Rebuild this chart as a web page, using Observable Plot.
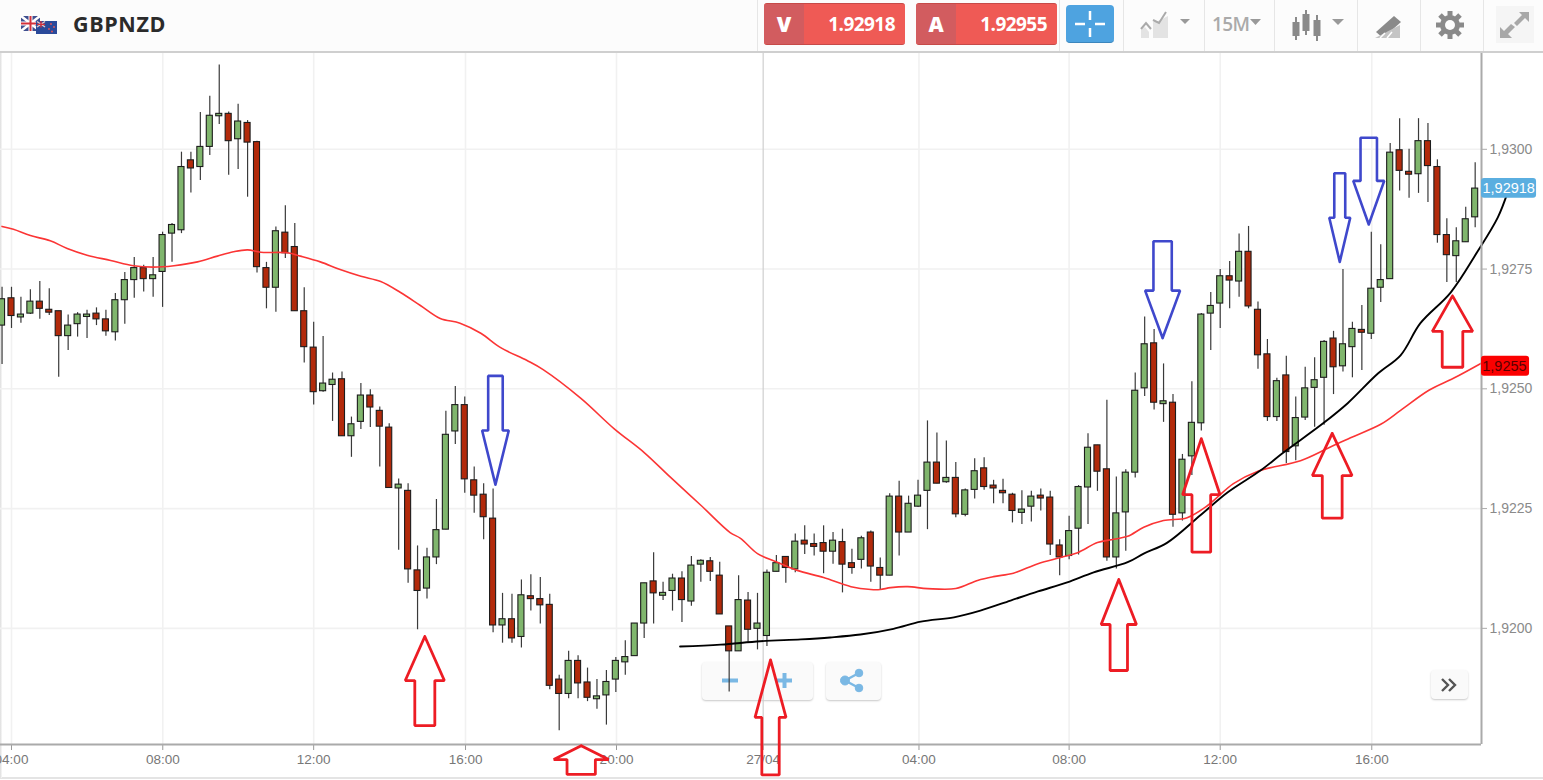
<!DOCTYPE html>
<html><head><meta charset="utf-8">
<script src="https://cdn.jsdelivr.net/npm/d3@7"></script>
<script src="https://cdn.jsdelivr.net/npm/@observablehq/plot@0.6"></script>
<style>
html,body{margin:0;padding:0;background:#fff;overflow:hidden}
#page{position:relative;width:1543px;height:780px;overflow:hidden;font-family:"Open Sans",sans-serif}
#header{position:absolute;left:0;top:0;width:1543px;background:#fcfcfc;border-bottom:2px solid #cfcfcf;box-sizing:content-box;height:51px}
#header>*{position:absolute}
.sep{top:0;width:1px;height:51px;background:#e6e6e6}
.title{left:73px;top:9px;font-size:21.5px;font-weight:700;color:#2b2b2b;letter-spacing:.6px;line-height:30px}
.quote{top:3px;height:42px;width:141px;border-radius:3px;background:#ef5a55;border-bottom:1px solid #c64a48;border-top:1px solid #c64a48;box-sizing:border-box;color:#fff;font-weight:700}
.quote b{position:absolute;left:0;top:0;width:40px;height:100%;background:#d25c5f;text-align:center;font-size:21px;line-height:40px;border-radius:3px 0 0 3px}
.quote span{position:absolute;right:10px;top:0;line-height:40px;font-size:19px;letter-spacing:-.55px}
.btn{position:absolute;background:#fafafa;border-radius:4px;box-shadow:0 1px 2px rgba(0,0,0,.22)}
#under{position:absolute;left:0;top:0;width:1543px;height:780px;z-index:0}
#chart{position:absolute;left:0;top:53px;z-index:1}
#chart svg{background:transparent!important;display:block}
#foot{position:absolute;left:0;top:777px;width:1543px;height:2px;background:#e4e4e4}
#edge{position:absolute;left:0;top:0;width:2px;height:778px;background:linear-gradient(90deg,#ddd,#f8f8f8)}
</style></head>
<body>
<div id="page">
<div id="under">
  <div class="btn" style="left:702px;top:662px;width:111px;height:38px"></div>
  <div class="btn" style="left:826px;top:662px;width:55px;height:38px"></div>
  <div class="btn" style="left:1431px;top:670px;width:37px;height:29px"></div>
  <svg width="1543" height="780" style="position:absolute;left:0;top:0">
    <g stroke="#7ab8e4" stroke-width="4"><path d="M722 680.5H738M777 680.5H792M784.5 673V688"/></g>
    <g fill="#7ab8e4" stroke="#7ab8e4"><circle cx="845" cy="680.5" r="4.5"/><circle cx="859" cy="673" r="3.8"/><circle cx="859" cy="688" r="3.8"/><path d="M845 680.5L859 673M845 680.5L859 688" stroke-width="2.5"/></g>
    <path d="M1442 679L1448 685L1442 691M1449 679L1455 685L1449 691" fill="none" stroke="#555" stroke-width="2.4"/>
  </svg>
  <div id="foot"></div>
  <div id="edge"></div>
</div>
<div id="chart"></div>
<div id="header" style="z-index:2">
  <svg width="60" height="40" style="left:18px;top:12px" viewBox="0 0 60 40">
    <rect x="3" y="4" width="19" height="15" fill="#3f4f8f"/><path d="M3 4L22 19M22 4L3 19" stroke="#fff" stroke-width="2.5"/><path d="M12.5 4V19M3 11.5H22" stroke="#fff" stroke-width="4"/><path d="M12.5 4V19M3 11.5H22" stroke="#d3303a" stroke-width="2"/>
    <rect x="18" y="9" width="21" height="13" fill="#2a4a9a"/><path d="M19 9.5L27 15M27 9.5L19 15" stroke="#e8c6c6" stroke-width="1.5"/><path d="M23 9V15.500M19 12.300H27" stroke="#d3303a" stroke-width="1.300"/><g fill="#e55"><circle cx="33" cy="12" r=".9"/><circle cx="36" cy="15" r=".9"/><circle cx="31" cy="17" r=".9"/><circle cx="34" cy="19.500" r=".9"/></g>
  </svg>
  <div class="title">GBPNZD</div>
  <div class="sep" style="left:757px"></div>
  <div class="quote" style="left:764px"><b>V</b><span>1.92918</span></div>
  <div class="quote" style="left:916px"><b>A</b><span>1.92955</span></div>
  <div class="sep" style="left:1059px"></div>
  <div style="left:1066px;top:5px;width:48px;height:38px;background:#4ea3e0;border-radius:4px;border-bottom:1px solid #3b86bd;box-sizing:border-box"></div>
  <svg width="48" height="38" style="left:1066px;top:5px"><path d="M24 6V15M24 23V32M9 19H19M29 19H39" stroke="#fff" stroke-width="2.500"/></svg>
  <div class="sep" style="left:1123px"></div>
  <svg width="60" height="40" style="left:1136px;top:8px"><path d="M5 30V22L9 19L13 24V30ZM17 30V14L22 13L32 8V30Z" fill="#e3e3e3"/><path d="M5 21L10 15L15 21M17 12L23 15L30 4" fill="none" stroke="#aaa" stroke-width="2"/><path d="M44 11H54L49 16Z" fill="#999"/></svg>
  <div class="sep" style="left:1204px"></div>
  <div style="left:1212px;top:11px;font-size:19px;color:#aaa;font-weight:600;letter-spacing:-.6px;line-height:26px">15M</div>
  <svg width="14" height="8" style="left:1249px;top:19px"><path d="M1 0H12L6.500 6Z" fill="#999"/></svg>
  <div class="sep" style="left:1274px"></div>
  <svg width="60" height="40" style="left:1290px;top:8px"><g fill="#8a8a8a" stroke="#8a8a8a" stroke-width="2"><path d="M6 9V32M16 2V27M27 7V33"/><rect x="3.500" y="15" width="5" height="12"/><rect x="13.500" y="7" width="5" height="15"/><rect x="24.500" y="13" width="5" height="14"/></g><path d="M42 11H54L48 17Z" fill="#999"/></svg>
  <div class="sep" style="left:1357px"></div>
  <svg width="34" height="30" style="left:1372px;top:12px"><path d="M4 20L22 4L29 10L11 26Z" fill="#8a8a8a"/><path d="M3 26L28 26L28 13Z" fill="#c4c4c4"/><path d="M8 26L13 21M15 26L20 20" stroke="#fff" stroke-width="1.500"/></svg>
  <div class="sep" style="left:1420px"></div>
  <svg width="34" height="34" style="left:1433px;top:8px" viewBox="0 0 34 34"><g fill="#8a8a8a"><circle cx="17" cy="17" r="10"/><g stroke="#8a8a8a" stroke-width="5"><path d="M17 3V31M3 17H31M7 7L27 27M27 7L7 27"/></g></g><circle cx="17" cy="17" r="5" fill="#fcfcfc"/></svg>
  <div class="sep" style="left:1483px"></div>
  <div style="left:1496px;top:6px;width:38px;height:37px;background:#f5f5f5"></div>
  <svg width="38" height="37" style="left:1496px;top:6px"><path d="M23 6H33V16L29 12L21 20L18 17L26 9ZM4 32V21L8 25L15 18L19 21L12 28L16 32Z" fill="#a8a8a8"/></svg>
</div>
</div>
<script>
// Candle values in price points (1 point = 0.00001), 15-minute bars numbered from the left edge
const high = [
192712,192712,192691,192707,192724,192709,192662,192654,192659,192664,
192669,192664,192699,192743,192774,192758,192774,192827,192845,192994,
192994,193077,193111,193176,193078,193094,193060,193017,192764,192838,
192882,192845,192711,192639,192609,192533,192535,192441,192511,192498,
192462,192427,192312,192302,192172,192167,192269,192453,192505,192483,
192337,192302,192291,192073,192071,192101,192112,192106,192071,191902,
191952,191943,191917,191893,191912,191939,191974,192010,192094,192158,
192096,192113,192118,192150,192143,192148,192138,192004,192110,192075,
192073,192122,192152,192150,192197,192214,192197,192214,192200,192207,
192165,192192,192203,192147,192281,192307,192276,192309,192433,192408,
192391,192346,192291,192354,192356,192309,192311,192282,192287,192286,
192291,192286,192185,192234,192298,192406,192382,192476,192316,192331,
192533,192650,192624,192552,192488,192363,192515,192657,192701,192749,
192766,192823,192839,192681,192603,192522,192568,192483,192545,192565,
192601,192620,192749,192639,192674,192827,192801,193012,193064,193000,
193064,193054,192978,192855,192836,192879,192972];
const bodyTop = [
192687,192689,192655,192682,192682,192665,192662,192632,192655,192655,
192657,192645,192685,192727,192752,192752,192737,192821,192842,192963,
192977,193005,193070,193074,193074,193058,193055,193015,192752,192829,
192826,192796,192662,192586,192511,192519,192520,192426,192486,192486,
192454,192419,192300,192287,192121,192148,192205,192404,192466,192466,
192309,192279,192229,192019,192019,192069,192067,192061,192049,191893,
191932,191932,191887,191858,191888,191932,191940,192010,192094,192098,
192074,192104,192104,192131,192141,192140,192110,192004,192059,192058,
192010,192116,192136,192149,192181,192183,192176,192178,192183,192180,
192136,192188,192200,192126,192275,192275,192260,192277,192346,192346,
192314,192314,192288,192328,192334,192298,192287,192279,192248,192275,
192277,192273,192173,192203,192295,192377,192382,192332,192240,192325,
192496,192593,192595,192474,192471,192352,192429,192655,192673,192735,
192735,192786,192786,192665,192572,192516,192528,192439,192501,192518,
192598,192605,192593,192625,192623,192709,192727,192993,192998,192953,
193017,193017,192963,192821,192808,192854,192918];
const bodyBottom = [
192632,192652,192649,192657,192667,192659,192610,192610,192635,192650,
192645,192620,192618,192685,192727,192729,192729,192744,192824,192831,
192960,192963,193005,193069,193017,193021,193014,192754,192711,192711,
192783,192662,192587,192493,192495,192508,192401,192401,192431,192461,
192421,192293,192292,192123,192078,192083,192148,192206,192411,192311,
192277,192232,192006,192006,191979,191982,192061,192048,191880,191863,
191863,191885,191855,191852,191860,191893,191929,191942,192010,192073,
192068,192078,192059,192056,192133,192118,192029,191952,191952,191997,
191999,191984,192118,192126,192123,192175,192170,192160,192160,192133,
192126,192143,192129,192110,192110,192200,192200,192254,192287,192302,
192305,192238,192237,192289,192295,192292,192282,192245,192241,192254,
192271,192175,192148,192151,192208,192294,192327,192148,192148,192242,
192325,192501,192471,192468,192237,192240,192359,192428,192657,192678,
192726,192724,192672,192570,192441,192441,192368,192380,192440,192502,
192523,192545,192547,192587,192617,192615,192711,192729,192955,192947,
192948,192965,192821,192779,192777,192806,192858];
const low = [
192551,192626,192637,192655,192645,192653,192524,192580,192608,192605,
192632,192610,192600,192635,192689,192702,192691,192670,192764,192824,
192909,192935,192987,193052,192946,192958,192900,192742,192667,192660,
192772,192662,192554,192466,192493,192432,192401,192357,192415,192419,
192337,192293,192163,192094,191997,192061,192133,192206,192384,192282,
192240,192185,191991,191969,191969,191959,192036,192009,191872,191786,
191853,191853,191847,191831,191798,191866,191902,191942,191979,192009,
192058,192036,192012,192046,192096,192098,192029,191867,191952,191971,
191955,191962,192118,192094,192116,192154,192151,192114,192134,192074,
192113,192124,192096,192079,192110,192151,192200,192252,192206,192302,
192303,192231,192233,192270,192288,192260,192260,192220,192217,192222,
192245,192152,192110,192143,192153,192217,192286,192140,192124,192161,
192314,192484,192456,192430,192211,192224,192319,192412,192580,192626,
192667,192691,192667,192541,192432,192432,192344,192350,192434,192420,
192424,192488,192535,192523,192538,192603,192680,192729,192913,192898,
192908,192889,192804,192722,192722,192806,192836];
// bars that closed lower than they opened
const downBars = [1,4,5,6,10,11,15,20,24,26,27,28,30,31,32,33,36,39,40,41,43,44,49,50,51,52,54,56,57,58,59,61,62,69,72,75,76,77,79,83,85,86,87,89,90,92,93,95,99,101,104,105,106,107,110,111,112,116,117,122,124,130,132,133,134,136,141,144,148,149,151,152,153];

// Moving averages
const slowBar = [0,1.2,3,5.1,6.9,9,11.5,13.9,16,18.2,20.7,22.8,24.5,26,27.4,30.2,31.6,33.7,35.8,38,40.1,42.2,44.3,46.4,48.5,50.7,52.8,55.6,57.3,61.3,64.8,68,70.8,74,77.1,78.2,80,82.1,84.2,87,89.9,92,93,94.1,95.9,98,101,103.3,105,107.1,109.7,112.1,113.9,116,117.7,119.2,120.9,123,125.5,127.7,130.4,133,137.5,140.4,142.8,146,148.1,151.1,153.7,156.6];
const slowMA = [192839,192833,192820,192809,192793,192779,192768,192757,192754,192757,192765,192777,192786,192790,192785,192784,192777,192765,192749,192735,192724,192701,192674,192647,192637,192616,192586,192559,192540,192480,192417,192367,192315,192257,192200,192188,192156,192138,192121,192106,192087,192081,192081,192085,192087,192083,192083,192100,192108,192115,192135,192148,192158,192179,192186,192192,192211,192225,192231,192257,192302,192328,192350,192376,192398,192426,192455,192497,192522,192553];
const fastBar = [71.8,76.1,80.3,84.6,87.7,90.9,94.4,97.3,100.8,103.6,106.8,109.7,112.8,115.6,119.2,120.9,123.4,126.9,129.8,133.3,135.7,139.9,142.5,145.7,148.1,150.2,153.4,156.2,158.4,159.4];
const fastMA = [191962,191966,191973,191977,191981,191987,191999,192014,192023,192037,192058,192077,192096,192117,192138,192156,192179,192236,192284,192330,192367,192428,192470,192532,192570,192637,192701,192785,192858,192908];

// Axis ticks
const priceTicks = [1.92, 1.9225, 1.925, 1.9275, 1.93];
const timeTickBars = [1, 17.02, 33, 49.08, 65.07, 80.6, 97.1, 113, 129, 145.05];
const timeTickLabels = ["04:00","08:00","12:00","16:00","20:00","27/04","04:00","08:00","12:00","16:00"];

// Hand-drawn annotation arrows: tip, shoulder and tail end in points, bar position, half-widths in bars
const arrowColor  = ["red","red","red","red","red","red","red","blue","blue","blue","blue"];
const arrowBar    = [44.77,81.38,61.33,118.26,127,140.86,153.6,52.25,122.9,141.66,144.73];
const arrowTip    = [191983,191934,191755,192102,192396,192407,192694,192300,192606,192765,192843];
const arrowBase   = [191891,191814,191726,192008,192279,192319,192620,192413,192705,192857,192934];
const arrowEnd    = [191797,191694,191695,191912,192159,192230,192545,192527,192808,192950,193024];
const arrowHead   = [2.07,1.64,2.91,1.87,1.98,2.1,2.14,1.41,1.85,1.11,1.64];
const arrowTail   = [1.06,0.92,1.5,0.92,0.99,1.05,1.09,0.77,0.97,0.58,0.87];

const P = v => v / 1e5;
const downSet = new Set(downBars);
const candles = high.map((h, i) => ({
  i, high: P(h), low: P(low[i]), top: P(bodyTop[i]), bottom: P(bodyBottom[i]), down: downSet.has(i)
}));
const slow = slowBar.map((b, i) => ({b, p: P(slowMA[i])}));
const fast = fastBar.map((b, i) => ({b, p: P(fastMA[i])}));
const arrows = arrowBar.flatMap((b, k) => {
  const h = arrowHead[k], t = arrowTail[k], tip = P(arrowTip[k]), base = P(arrowBase[k]), end = P(arrowEnd[k]);
  return [[b,tip],[b+h,base],[b+t,base],[b+t,end],[b-t,end],[b-t,base],[b-h,base],[b,tip]]
    .map(([x,y]) => ({k, color: arrowColor[k], x, y}));
});
const lastBar = 156.67;
const labelFont = '"Liberation Sans", Arial, sans-serif';
const axisGrey = "#777";

const plot = Plot.plot({
  width: 1543, height: 727,
  marginLeft: 0, marginRight: 62, marginTop: 0, marginBottom: 36,
  style: {background: "transparent", fontFamily: labelFont},
  x: {domain: [-0.164, lastBar], axis: null},
  y: {domain: [1.917575, 1.932], axis: null},
  marks: [
    Plot.ruleY(priceTicks, {stroke: "#f1f1f1", strokeWidth: 1.6}),
    Plot.ruleX(timeTickBars.filter((d,i) => timeTickLabels[i] !== "27/04"), {stroke: "#f1f1f1", strokeWidth: 1.6}),
    Plot.ruleX(timeTickBars.filter((d,i) => timeTickLabels[i] === "27/04"), {stroke: "#cfcfcf", strokeWidth: 1.2}),
    Plot.ruleX(candles, {x: "i", y1: "low", y2: "high", stroke: "#3a3a3a", strokeWidth: 1.2}),
    Plot.rect(candles, {
      x1: d => d.i - 0.32, x2: d => d.i + 0.32, y1: "bottom", y2: "top",
      fill: d => d.down ? "#b22a0b" : "#80b66d", stroke: "#1c1c1c", strokeWidth: 1.1
    }),
    Plot.line(slow, {x: "b", y: "p", stroke: "#fb3535", strokeWidth: 1.6, curve: "catmull-rom"}),
    Plot.line(fast, {x: "b", y: "p", stroke: "#000", strokeWidth: 1.9, curve: "catmull-rom"}),
    Plot.ruleX([lastBar], {stroke: "#aaa", strokeWidth: 2}),
    Plot.axisX(timeTickBars, {
      anchor: "bottom", label: null, tickSize: 6, tickPadding: 4, fontSize: 13.5, color: axisGrey, stroke: "#999",
      tickFormat: (d, i) => timeTickLabels[timeTickBars.indexOf(d)]
    }),
    Plot.ruleY([1.917575], {stroke: "#aaa", strokeWidth: 2}),
    Plot.axisY(priceTicks, {
      anchor: "right", label: null, tickSize: 5, tickPadding: 3, fontSize: 14, color: "#8a8a8a", stroke: "#aaa",
      tickFormat: d => d.toFixed(4).replace(".", ",")
    }),
    Plot.rect([{x1: 156.67, x2: 162.5, y1: 1.92898, y2: 1.92939}], {x1: "x1", x2: "x2", y1: "y1", y2: "y2", fill: "#5aaee0", rx: 3}),
    Plot.rect([{x1: 156.67, x2: 161.76, y1: 1.92526, y2: 1.92568}], {x1: "x1", x2: "x2", y1: "y1", y2: "y2", fill: "#fb0000", rx: 3}),
    Plot.text([{x: 159.55, y: 1.92918, t: "1,92918"}], {x: "x", y: "y", text: "t", fill: "#fff", fontSize: 14.5}),
    Plot.text([{x: 159.1, y: 1.92547, t: "1,9255"}], {x: "x", y: "y", text: "t", fill: "#5a0000", fontSize: 14.5}),
    Plot.line(arrows.filter(d => d.color === "red"), {x: "x", y: "y", z: "k", stroke: "#ed1c24", strokeWidth: 2.8, strokeLinejoin: "miter"}),
    Plot.line(arrows.filter(d => d.color === "blue"), {x: "x", y: "y", z: "k", stroke: "#3f48cc", strokeWidth: 2.6, strokeLinejoin: "miter"})
  ]
});
document.getElementById("chart").appendChild(plot);
</script>
</body></html>
